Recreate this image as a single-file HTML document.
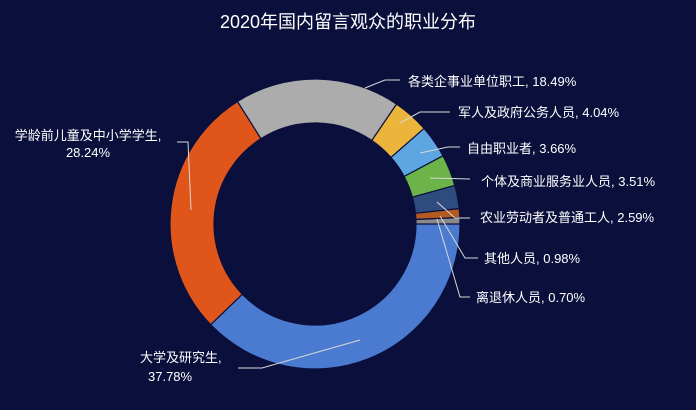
<!DOCTYPE html>
<html><head><meta charset="utf-8"><style>
html,body{margin:0;padding:0;background:#0b0f3c;}
svg{display:block;}
text{font-family:"Liberation Sans","Noto Sans CJK SC",sans-serif;fill:#fff;}
</style></head><body>
<svg id="s" width="696" height="410" viewBox="0 0 696 410">
<rect width="696" height="410" fill="#0b0f3c"/>
<text x="348" y="28" font-size="18" text-anchor="middle">2020年国内留言观众的职业分布</text>
<g id="arcs"></g>
<g fill="none" stroke="#d8d8d8" stroke-width="1">
<polyline points="365,88 385,80 400,80"/>
<polyline points="400,123 420,112 450,112"/>
<polyline points="420,153 448,147 460,147"/>
<polyline points="430,178 470,179"/>
<polyline points="437,202 455,218 470,218"/>
<polyline points="440,216 465,258 478,258"/>
<polyline points="437,219 460,297 470,297"/>
<polyline points="177,142 188,142 191,210"/>
<polyline points="238,368 262,368 360,340"/>
</g>
<g font-size="13">
<text x="408" y="86">各类企事业单位职工, 18.49%</text>
<text x="458" y="117">军人及政府公务人员, 4.04%</text>
<text x="467" y="153">自由职业者, 3.66%</text>
<text x="481" y="186">个体及商业服务业人员, 3.51%</text>
<text x="480" y="222">农业劳动者及普通工人, 2.59%</text>
<text x="484" y="263">其他人员, 0.98%</text>
<text x="476" y="302">离退休人员, 0.70%</text>
<text x="88" y="140" text-anchor="middle">学龄前儿童及中小学学生,</text>
<text x="88" y="157" text-anchor="middle">28.24%</text>
<text x="140" y="362">大学及研究生,</text>
<text x="148" y="381">37.78%</text>
</g>
</svg>
<script>
var d=[[37.78,"#4a7bd0"],[28.24,"#e0561a"],[18.49,"#acacac"],[4.04,"#ebb53c"],[3.66,"#5ea6e2"],[3.51,"#6cb44a"],[2.59,"#2e4c7e"],[0.98,"#b35a22"],[0.70,"#8a8a8a"]];
var cx=315,cy=224,R=145,r=101,a=0,h="";
function p(rad,ang){var t=ang*Math.PI/180;return (cx+rad*Math.cos(t)).toFixed(2)+","+(cy+rad*Math.sin(t)).toFixed(2);}
d.forEach(function(e){var b=a+e[0]*3.6;var l=(b-a)>180?1:0;
h+='<path d="M'+p(R,a)+' A'+R+','+R+' 0 '+l+' 1 '+p(R,b)+' L'+p(r,b)+' A'+r+','+r+' 0 '+l+' 0 '+p(r,a)+' Z" fill="'+e[1]+'" stroke="#0b0f3c" stroke-width="1.2"/>';a=b;});
document.getElementById("arcs").innerHTML=h;
</script>
</body></html>
